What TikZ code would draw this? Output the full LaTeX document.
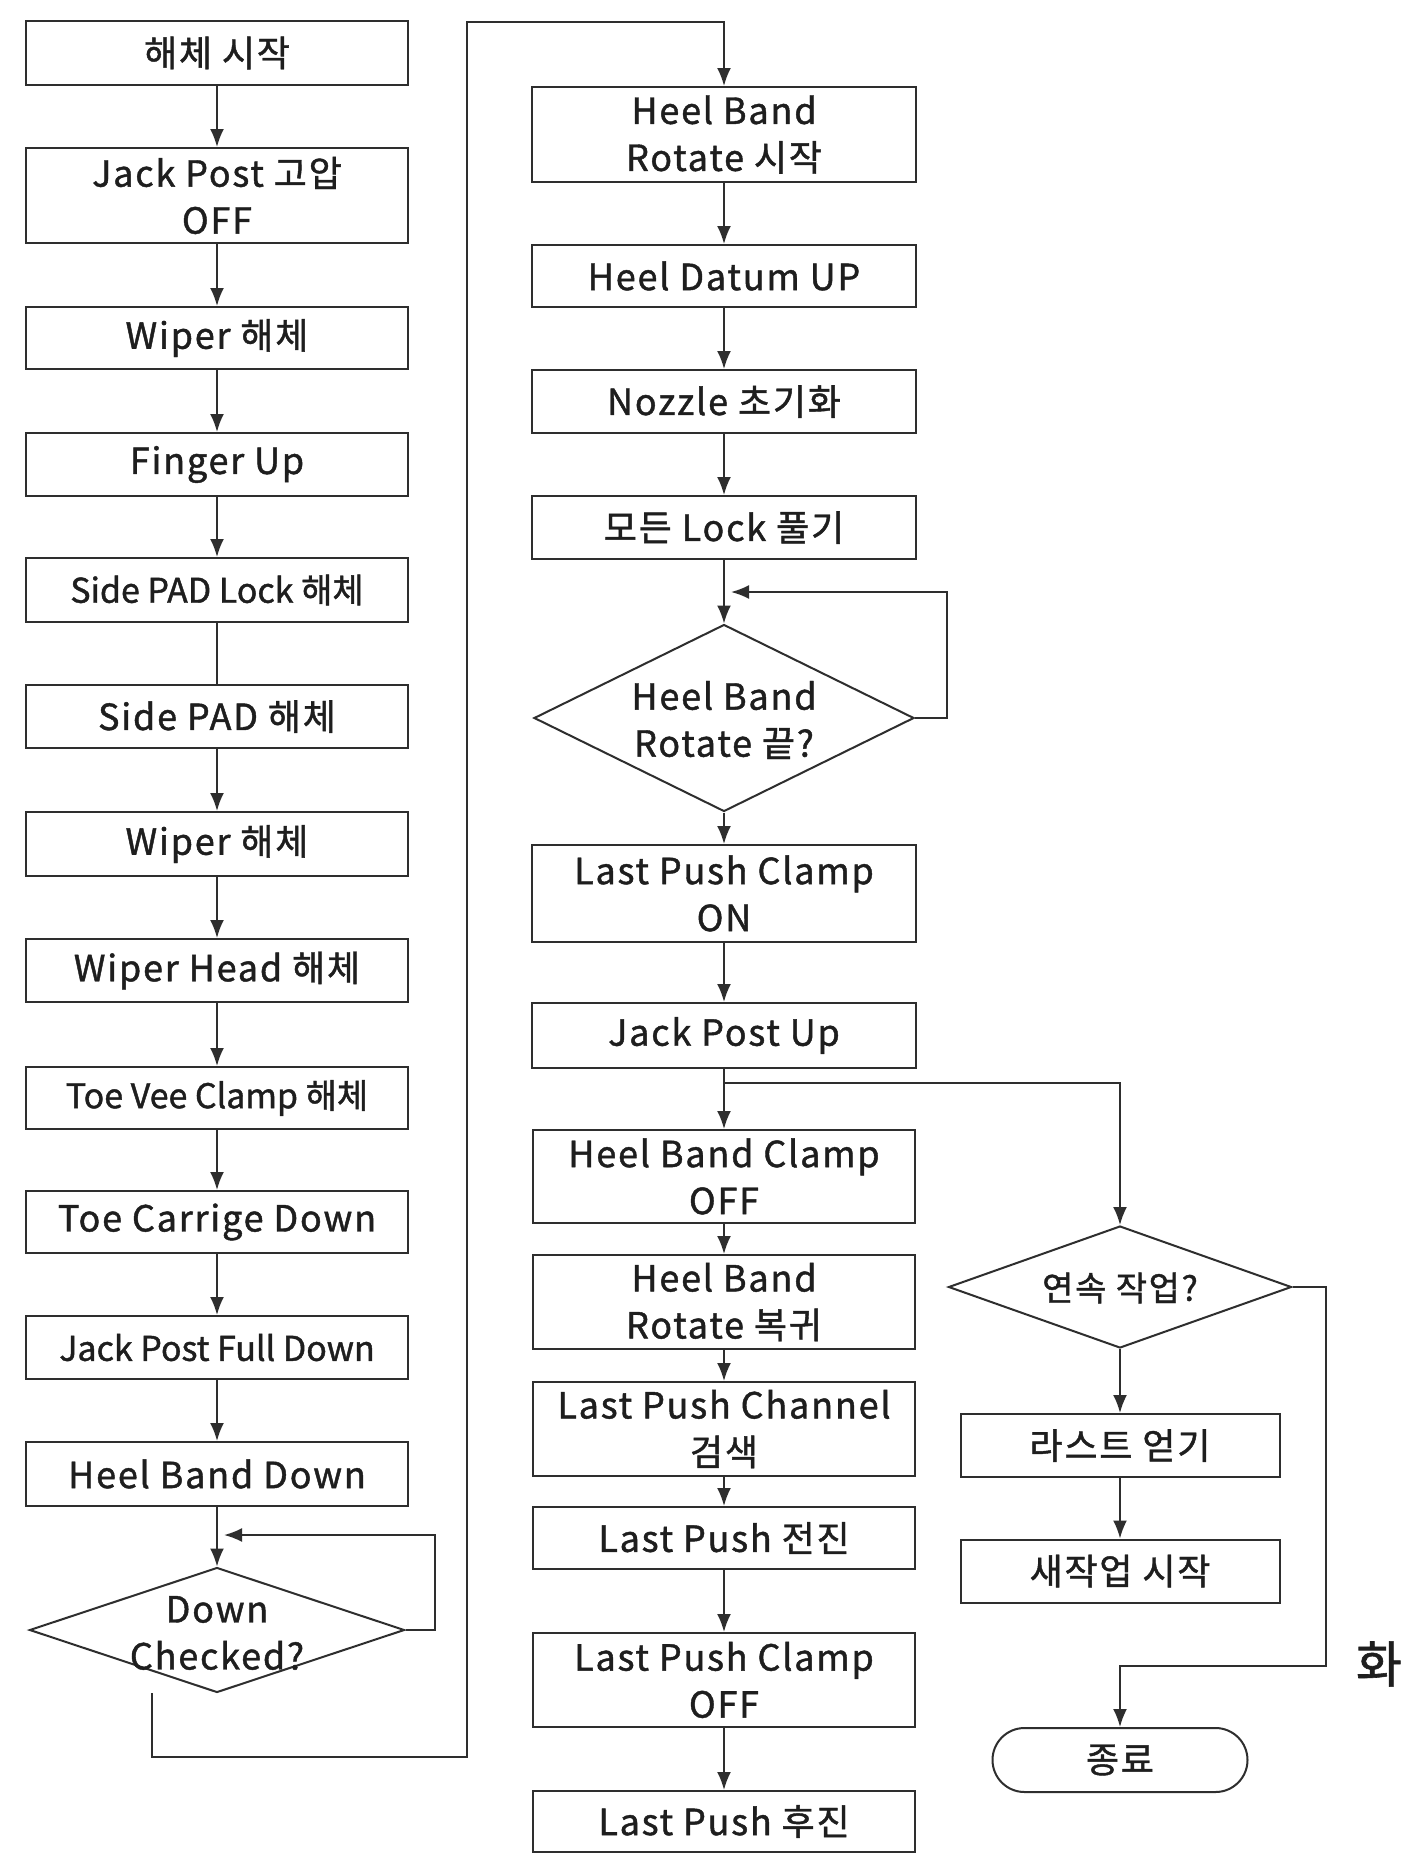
\documentclass[tikz,border=0pt]{standalone}
\usepackage{fontspec}
\setmainfont{Noto Sans CJK KR}
\newfontfamily\widefont[LetterSpace=5,FakeBold=1.2]{Noto Sans CJK KR}
\newfontfamily\plainfont[FakeBold=1.2]{Noto Sans CJK KR}
\usetikzlibrary{shapes.geometric,arrows.meta}
\definecolor{linec}{HTML}{2e2e2e}
\definecolor{textc}{HTML}{1e1e1e}
\begin{document}
\begin{tikzpicture}[x=1pt,y=-1pt,
  line/.style={draw=linec, line width=2pt},
  arr/.style={line, -{Latex[length=18pt,width=14pt]}},
  txt/.style={text=textc, align=center, inner sep=0pt, font=\widefont\fontsize{36}{47}\selectfont},
  bx/.style 2 args={txt, draw=linec, line width=2pt, rectangle, minimum width=#1, minimum height=#2},
  narrow/.style={font=\plainfont\fontsize{34}{47}\selectfont},
  dia/.style 2 args={draw=linec, line width=2pt, diamond, inner sep=0pt, minimum width=#1, minimum height=#2},
  term/.style 2 args={txt, draw=linec, line width=2pt, rectangle, rounded corners=32pt, minimum width=#1, minimum height=#2}
]
\useasboundingbox[fill=white] (0,0) rectangle (1404,1853);

% ---------- left column ----------
\node[bx={382pt}{64pt}] (b1) at (217,53) {해체 시작};
\node[bx={382pt}{95pt}] (b2) at (217,195.5) {Jack Post 고압\\OFF};
\node[bx={382pt}{62pt}] (b3) at (217,338) {Wiper 해체};
\node[bx={382pt}{63pt}] (b4) at (217,464.5) {Finger Up};
\node[bx={382pt}{64pt}, narrow] (b5) at (217,590) {Side PAD Lock 해체};
\node[bx={382pt}{63pt}] (b6) at (217,716.5) {Side PAD 해체};
\node[bx={382pt}{64pt}] (b7) at (217,844) {Wiper 해체};
\node[bx={382pt}{63pt}] (b8) at (217,970.5) {Wiper Head 해체};
\node[bx={382pt}{62pt}, narrow] (b9) at (217,1098) {Toe Vee Clamp 해체};
\node[bx={382pt}{62pt}] (b10) at (217,1222) {Toe Carrige Down};
\node[bx={382pt}{63pt}, narrow] (b11) at (217,1347.5) {Jack Post Full Down};
\node[bx={382pt}{64pt}] (b12) at (217,1474) {Heel Band Down};
\node[dia={375pt}{125pt}] (d1) at (217,1630) {};
\node[txt] (d1t) at (217,1633) {Down\\Checked?};

\draw[arr] (b1) -- (b2);
\draw[arr] (b2) -- (b3);
\draw[arr] (b3) -- (b4);
\draw[arr] (b4) -- (b5);
\draw[line] (b5) -- (b6);
\draw[arr] (b6) -- (b7);
\draw[arr] (b7) -- (b8);
\draw[arr] (b8) -- (b9);
\draw[arr] (b9) -- (b10);
\draw[arr] (b10) -- (b11);
\draw[arr] (b11) -- (b12);
\draw[arr] (b12) -- (d1);
\coordinate (d1in) at (224,1535);
\draw[arr] (d1.east) -- (435,1630) |- (d1in);

% ---------- middle column ----------
\node[bx={384pt}{95pt}] (m1) at (724,134.5) {Heel Band\\Rotate 시작};
\node[bx={384pt}{62pt}] (m2) at (724,276) {Heel Datum UP};
\node[bx={384pt}{63pt}] (m3) at (724,401.5) {Nozzle 초기화};
\node[bx={384pt}{63pt}] (m4) at (724,527.5) {모든 Lock 풀기};
\node[dia={380pt}{187pt}] (d2) at (724,718) {};
\node[txt] (d2t) at (724,720) {Heel Band\\Rotate 끝?};
\node[bx={384pt}{97pt}] (m5) at (724,893.5) {Last Push Clamp\\ON};
\node[bx={384pt}{65pt}] (m6) at (724,1035.5) {Jack Post Up};
\node[bx={382pt}{93pt}] (m7) at (724,1176.5) {Heel Band Clamp\\OFF};
\node[bx={382pt}{94pt}] (m8) at (724,1302) {Heel Band\\Rotate 복귀};
\node[bx={382pt}{94pt}] (m9) at (724,1429) {Last Push Channel\\검색};
\node[bx={382pt}{62pt}] (m10) at (724,1538) {Last Push 전진};
\node[bx={382pt}{94pt}] (m11) at (724,1680) {Last Push Clamp\\OFF};
\node[bx={382pt}{61pt}] (m12) at (724,1821.5) {Last Push 후진};

\coordinate (d1x) at (152,1693);
\draw[arr] (d1x) -- (152,1757) -| (467,22) -| (m1.north);
\draw[arr] (m1) -- (m2);
\draw[arr] (m2) -- (m3);
\draw[arr] (m3) -- (m4);
\draw[arr] (m4) -- (d2);
\coordinate (d2in) at (731,592);
\draw[arr] (d2.east) -- (947,718) |- (d2in);
\draw[arr] (d2) -- (m5);
\draw[arr] (m5) -- (m6);
\draw[arr] (m6) -- (m7);
\draw[arr] (m7) -- (m8);
\draw[arr] (m8) -- (m9);
\draw[arr] (m9) -- (m10);
\draw[arr] (m10) -- (m11);
\draw[arr] (m11) -- (m12);

% ---------- right column ----------
\node[dia={343pt}{122pt}] (d3) at (1120,1287) {};
\node[txt, font=\widefont\fontsize{34}{40}\selectfont] (d3t) at (1120,1288) {연속 작업?};
\node[bx={319pt}{63pt}] (r1) at (1120,1445.5) {라스트 얻기};
\node[bx={319pt}{63pt}] (r2) at (1120,1571) {새작업 시작};
\node[term={255pt}{64pt}] (e) at (1120,1760) {종료};
\node[txt, font=\plainfont\fontsize{50}{56}\selectfont] (hw) at (1379,1664) {화};

\coordinate (br) at (724,1083);
\draw[arr] (br) -| (d3.north);
\draw[arr] (d3) -- (r1);
\draw[arr] (r1) -- (r2);
\draw[arr] (d3.east) -- (1326,1287) -- (1326,1666) -| (e.north);
\end{tikzpicture}
\end{document}
